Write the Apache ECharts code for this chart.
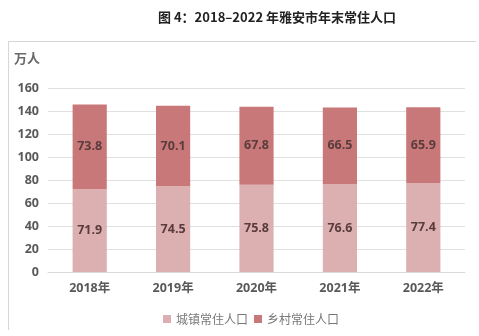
<!DOCTYPE html>
<html>
<head>
<meta charset="utf-8">
<script src="https://cdn.jsdelivr.net/npm/echarts@6/dist/echarts.min.js"></script>
<style>
  html, body { margin: 0; padding: 0; background: #fff; }
  #chart { width: 479px; height: 336px; }
</style>
</head>
<body>
<div id="chart"></div>
<script>
// Year-end resident population of Ya'an, 2018-2022 (10k persons)
const years = ['2018年', '2019年', '2020年', '2021年', '2022年'];
const urban = [71.9, 74.5, 75.8, 76.6, 77.4];
const rural = [73.8, 70.1, 67.8, 66.5, 65.9];
const seriesNames = ['城镇常住人口', '乡村常住人口'];
const yTicks = { min: 0, max: 160, interval: 20 };

const chart = echarts.init(document.getElementById('chart'), null, { renderer: 'canvas' });

const labelStyle = {
  show: true,
  position: 'inside',
  color: '#5a3c3c',
  fontSize: 12.5,
  fontWeight: 'bold',
  fontFamily: 'Open Sans, sans-serif'
};

chart.setOption({
  animation: false,
  title: {
    text: '图 4：2018–2022 年雅安市年末常住人口',
    left: 272,
    textAlign: 'center',
    top: 6,
    textStyle: {
      fontSize: 13,
      fontWeight: 'bold',
      color: '#222',
      fontFamily: 'Noto Sans CJK SC, sans-serif'
    }
  },
  graphic: [
    {
      type: 'polyline',
      shape: { points: [[8.5, 330], [8.5, 41.5], [476, 41.5]] },
      style: { stroke: '#d6d6d6', lineWidth: 1, fill: null }
    },
    {
      type: 'text',
      left: 14,
      top: 52,
      style: {
        text: '万人',
        fontSize: 13,
        fontWeight: 'bold',
        fill: '#6a6a6a',
        fontFamily: 'Noto Sans CJK SC, sans-serif'
      }
    }
  ],
  grid: { left: 48, right: 14, top: 88, bottom: 64, containLabel: false },
  legend: {
    bottom: 6,
    left: 158,
    itemWidth: 8,
    itemHeight: 8,
    itemGap: 6,
    icon: 'rect',
    textStyle: {
      fontSize: 12,
      color: '#777',
      fontFamily: 'Noto Sans CJK SC, sans-serif'
    },
    data: seriesNames
  },
  xAxis: {
    type: 'category',
    data: years,
    axisLine: { lineStyle: { color: '#d9d9d9' } },
    axisTick: { show: false },
    axisLabel: {
      color: '#595959',
      fontSize: 12.5,
      fontWeight: 'bold',
      margin: 10,
      fontFamily: 'Open Sans, Noto Sans CJK SC, sans-serif'
    }
  },
  yAxis: {
    type: 'value',
    min: yTicks.min,
    max: yTicks.max,
    interval: yTicks.interval,
    axisLine: { show: false },
    axisTick: { show: false },
    splitLine: { lineStyle: { color: '#e0e0e0' } },
    axisLabel: {
      color: '#595959',
      fontSize: 12.5,
      fontWeight: 'bold',
      margin: 9,
      fontFamily: 'Open Sans, sans-serif'
    }
  },
  series: [
    {
      name: seriesNames[0],
      type: 'bar',
      stack: 'pop',
      data: urban,
      barWidth: '41%',
      itemStyle: { color: '#dcb0b1' },
      label: labelStyle
    },
    {
      name: seriesNames[1],
      type: 'bar',
      stack: 'pop',
      data: rural,
      barWidth: '41%',
      itemStyle: { color: '#c97879' },
      label: labelStyle
    }
  ]
});
</script>
</body>
</html>
